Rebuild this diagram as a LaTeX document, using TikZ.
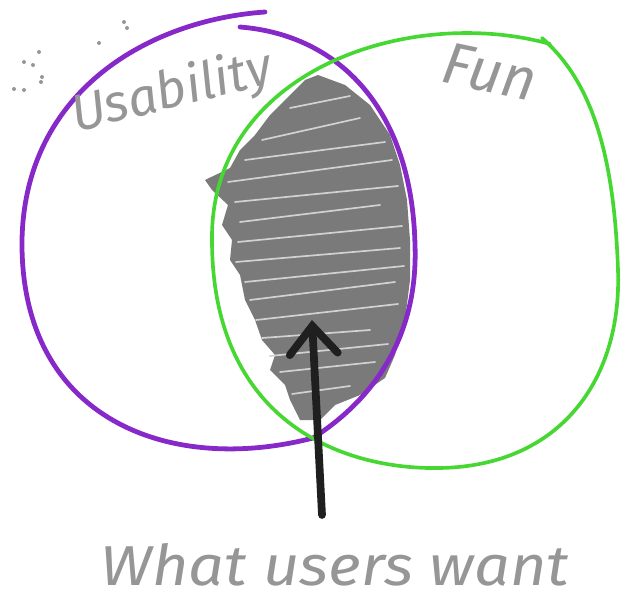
\documentclass[tikz,border=0pt]{standalone}
\usepackage{fontspec}
\setmainfont{Fira Sans}
\usetikzlibrary{arrows.meta}

\definecolor{usapurple}{RGB}{135,40,200}
\definecolor{fungreen}{RGB}{70,215,50}
\definecolor{scribble}{RGB}{122,122,122}
\definecolor{pencil}{RGB}{150,150,150}

\tikzset{
  handtext/.style={text=pencil, font=\itshape, inner sep=0pt},
}

\begin{document}
\begin{tikzpicture}[x=0.025cm, y=-0.025cm]
\useasboundingbox (0,0) rectangle (626,597);

% shaded overlap
\fill[scribble]
(318,75) -- (345,85) -- (370,105) -- (390,135) -- (400,165) -- (407,200)
-- (410,240) -- (410,280) -- (405,320) -- (395,355) -- (385,378) -- (360,395)
-- (335,405) -- (320,420) -- (300,420) -- (290,400) -- (285,385) -- (270,370)
-- (275,355) -- (262,340) -- (255,320) -- (245,300) -- (240,275) -- (230,260)
-- (232,240) -- (222,225) -- (228,205) -- (212,190) -- (205,180) -- (230,168)
-- (240,150) -- (255,135) -- (270,115) -- (290,95) -- (305,80) -- cycle;

\draw[gray!35, line width=1.2pt, line cap=round]
(290,108) -- (350,96)
(262,140) -- (360,118)
(245,160) -- (385,142)
(228,182) -- (392,160)
(235,202) -- (398,186)
(240,222) -- (380,205)
(238,242) -- (402,226)
(236,262) -- (400,248)
(245,282) -- (404,266)
(250,300) -- (395,282)
(256,320) -- (398,304)
(262,338) -- (370,330)
(270,356) -- (388,344)
(280,372) -- (375,362)
(292,394) -- (350,386);

% circles
\draw[usapurple, line width=3.4pt, line cap=round]
(265,12) .. controls (150,20) and (25,90) .. (22,240)
.. controls (20,420) and (170,475) .. (313,438)
.. controls (380,395) and (418,330) .. (415,245)
.. controls (412,110) and (340,35) .. (240,27);

\draw[fungreen, line width=2.6pt, line cap=round]
(550,44) .. controls (410,5) and (210,70) .. (212,240)
.. controls (212,420) and (340,470) .. (440,468)
.. controls (560,466) and (622,380) .. (618,270)
.. controls (614,150) and (590,80) .. (542,38);

% specks
\fill[pencil]
(39,52) circle (2) (24,62) circle (2) (33,65) circle (2)
(42,77) circle (2) (41,82) circle (2) (14,89) circle (2)
(24,90) circle (2) (99,43) circle (2) (124,22) circle (2)
(127,28) circle (2);

% arrow
\coordinate (tail) at (322,515);
\coordinate (tip) at (312,320);
\draw[black!88, line width=5.5pt, line cap=round,
  -{Straight Barb[length=7mm, width=12mm, line cap=round]}] (tail) -- (tip);

% labels
\node[handtext, rotate=14, font=\itshape\fontsize{37}{40}\selectfont] (usability) at (172,93) {Usability};
\node[handtext, rotate=-12, font=\itshape\fontsize{42}{44}\selectfont] (fun) at (490,72) {Fun};
\node[handtext, xscale=1.12, font=\itshape\fontsize{40}{44}\selectfont] (want) at (335,565) {What users want};
\end{tikzpicture}
\end{document}
